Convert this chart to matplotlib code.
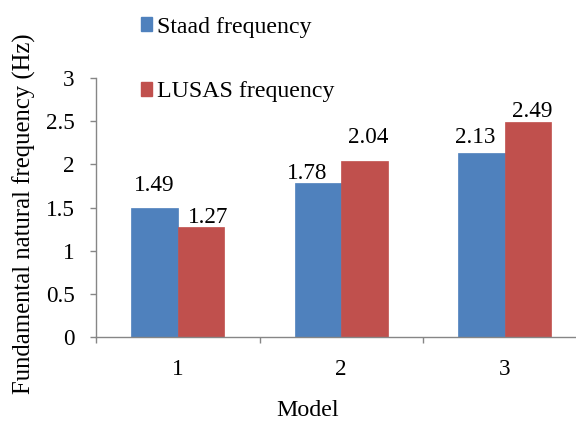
import matplotlib
matplotlib.use("Agg")
import matplotlib.pyplot as plt
from matplotlib.patches import Patch
import numpy as np

plt.rcParams['font.family'] = ['Liberation Serif', 'DejaVu Serif']

categories = ["1", "2", "3"]
staad = [1.49, 1.78, 2.13]
lusas = [1.27, 2.04, 2.49]
series_names = ["Staad frequency", "LUSAS frequency"]
y_ticks = [0, 0.5, 1, 1.5, 2, 2.5, 3]
y_tick_labels = ["0", "0.5", "1", "1.5", "2", "2.5", "3"]

# label offsets in pixels (dx, gap above bar) as placed in the source
staad_offsets = [(0, 17), (-11, 4), (-6, 10)]
lusas_offsets = [(7, 4), (4, 18), (4, 5)]

W, H = 576, 421
fig = plt.figure(figsize=(W / 100, H / 100), dpi=100)
left_px, right_px, bottom_px, top_px = 96, 96 + 3 * 163.5, 337, 78
ax = fig.add_axes([left_px / W, 1 - bottom_px / H,
                   (right_px - left_px) / W, (bottom_px - top_px) / H])

blue = "#4F81BD"
red = "#C0504D"
fs = 16.7
w = 1 / 3.5
x = np.arange(len(categories)) + 0.5
ax.bar(x - w / 2, staad, width=w, color=blue, edgecolor=blue, linewidth=0.5)
ax.bar(x + w / 2, lusas, width=w, color=red, edgecolor=red, linewidth=0.5)

for xi, v, (dx, dy) in zip(x - w / 2, staad, staad_offsets):
    ax.annotate(f"{v:.2f}", (xi, v), xytext=(dx, dy), textcoords="offset pixels",
                ha="center", va="baseline", fontsize=fs)
for xi, v, (dx, dy) in zip(x + w / 2, lusas, lusas_offsets):
    ax.annotate(f"{v:.2f}", (xi, v), xytext=(dx, dy), textcoords="offset pixels",
                ha="center", va="baseline", fontsize=fs)

ax.set_xlim(0, 3)
ax.set_ylim(0, 3)
ax.set_yticks(y_ticks)
ax.set_yticklabels(y_tick_labels, fontsize=fs)
ax.set_xticks(x)
ax.set_xticklabels(categories, fontsize=fs)
ax.set_xticks(np.arange(0, 4), minor=True)

gray = "#868686"
for s in ["top", "right"]:
    ax.spines[s].set_visible(False)
for s in ["left", "bottom"]:
    ax.spines[s].set_color(gray)
    ax.spines[s].set_linewidth(1.0)
ax.tick_params(axis="y", direction="out", length=4.5, width=1.0, color=gray, pad=11)
ax.tick_params(axis="x", which="major", length=0, pad=16)
ax.tick_params(axis="x", which="minor", direction="out", length=4.5, width=1.0, color=gray)

fig.text(24 / W, 1 - 214 / H, "Fundamental natural frequency (Hz)", rotation=90,
         ha="center", va="center", fontsize=17.8)
fig.text(308 / W, 1 - 411 / H, "Model", ha="center", va="center", fontsize=17.3)

for name, col, yc in zip(series_names, [blue, red], [27, 92]):
    fig.legend(handles=[Patch(facecolor=col, edgecolor=col)], labels=[name],
               loc="center left", bbox_to_anchor=(141 / W, 1 - yc / H),
               frameon=False, fontsize=17.2, borderpad=0, borderaxespad=0,
               handlelength=0.47, handleheight=0.47, handletextpad=0.22)

fig.savefig("out.png", dpi=100)
